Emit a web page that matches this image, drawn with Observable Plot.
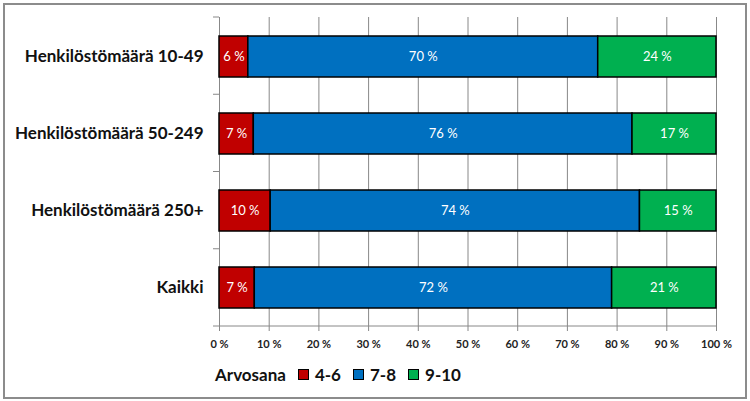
<!DOCTYPE html>
<html>
<head>
<meta charset="utf-8">
<script src="https://cdn.jsdelivr.net/npm/d3@7"></script>
<script src="https://cdn.jsdelivr.net/npm/@observablehq/plot@0.6"></script>
<style>
  body { margin: 0; background: #fff; font-family: Lato, "Open Sans", sans-serif; }
  #frame { position: absolute; left: 3px; top: 3px; width: 740px; height: 392px; border: 2px solid #8c8c8c; }
  #chart { position: absolute; left: 0; top: 0; }
  #legend { position: absolute; left: 215px; top: 363px; height: 22px; display: flex; align-items: center;
            font: bold 17px Lato, sans-serif; color: #111; }
  #legend .sw { width: 9px; height: 9px; border: 1px solid #000; margin: 0 6px 0 12px; }
</style>
</head>
<body>
<div id="frame"></div>
<div id="chart"></div>
<div id="legend"></div>
<script>
const categories = ["Henkilöstömäärä 10-49", "Henkilöstömäärä 50-249", "Henkilöstömäärä 250+", "Kaikki"];
const grades = ["4-6", "7-8", "9-10"];
const gradeColors = ["#C00000", "#0070C0", "#00B050"];
const low = [5.8, 6.9, 10.3, 7.1];
const mid = [70.4, 76.2, 74.3, 71.9];
const high = [23.8, 16.9, 15.4, 21.0];
const xTicks = [0, 10, 20, 30, 40, 50, 60, 70, 80, 90, 100];
const legendTitle = "Arvosana";

const series = [low, mid, high];
const data = [];
categories.forEach((c, i) => grades.forEach((g, j) => data.push({cat: c, grade: g, value: series[j][i]})));

const W = 750, H = 356;
const boundaryTicks = (index, scales, values, dims) => {
  const g = d3.create("svg:g");
  const n = categories.length;
  const top = dims.marginTop, bottom = dims.height - dims.marginBottom;
  const step = (bottom - top) / n;
  const x0 = dims.marginLeft, x1 = dims.width - dims.marginRight;
  for (let k = 0; k <= n; k++) {
    g.append("line").attr("x1", x0 - 6).attr("x2", x0).attr("y1", top + k * step).attr("y2", top + k * step)
      .attr("stroke", "#888");
  }
  g.append("line").attr("x1", x0).attr("x2", x1).attr("y1", bottom).attr("y2", bottom).attr("stroke", "#888");
  return g.node();
};

const chart = Plot.plot({
  width: W,
  height: H,
  marginLeft: 219,
  marginRight: 34,
  marginTop: 17,
  marginBottom: 30,
  style: {fontFamily: "Lato, sans-serif", background: "transparent"},
  x: {domain: [0, 100], label: null},
  y: {domain: categories, paddingInner: 0.47, paddingOuter: 0.235, label: null},
  color: {domain: grades, range: gradeColors},
  marks: [
    Plot.gridX({ticks: xTicks, stroke: "#888", strokeOpacity: 1}),
    boundaryTicks,
    Plot.axisX({ticks: xTicks, tickFormat: d => d + " %", tickSize: 5, tickPadding: 9, stroke: "#888",
                fontSize: 11, fontWeight: "bold", fill: "#222", label: null}),
    Plot.axisY({tickSize: 0, tickPadding: 16, fontSize: 17, fontWeight: "bold", fill: "#111", label: null}),
    Plot.barX(data, Plot.stackX({y: "cat", x: "value", fill: "grade", stroke: "black", strokeWidth: 1.5})),
    Plot.text(data, Plot.stackX({y: "cat", x: "value", text: d => Math.round(d.value) + " %",
                                 fill: "white", fontSize: 13}))
  ]
});
document.getElementById("chart").appendChild(chart);

const legend = document.getElementById("legend");
const t = document.createElement("span");
t.textContent = legendTitle;
legend.appendChild(t);
grades.forEach((g, j) => {
  const sw = document.createElement("span");
  sw.className = "sw";
  sw.style.background = gradeColors[j];
  legend.appendChild(sw);
  const l = document.createElement("span");
  l.textContent = g;
  legend.appendChild(l);
});
</script>
</body>
</html>
